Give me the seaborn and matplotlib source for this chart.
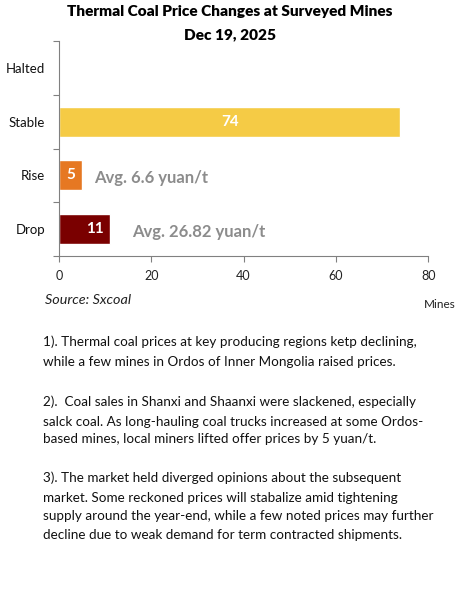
import matplotlib
matplotlib.use("Agg")
import matplotlib.pyplot as plt
import seaborn as sns
import pandas as pd
from matplotlib.ticker import FixedLocator

categories = ["Halted", "Stable", "Rise", "Drop"]
mines = [0, 74, 5, 11]
bar_labels = ["", "74", "5", "11"]
avg_labels = ["", "", "Avg. 6.6 yuan/t", "Avg. 26.82 yuan/t"]
colors = ["#F5CB45", "#F5CB45", "#E67822", "#7A0000"]
x_ticks = [0, 20, 40, 60, 80]

title_lines = ["Thermal Coal Price Changes at Surveyed Mines", "Dec 19, 2025"]
source = "Source: Sxcoal"
unit = "Mines"
notes = [
    ["1). Thermal coal prices at key producing regions ketp declining,",
     "while a few mines in Ordos of Inner Mongolia raised prices."],
    ["2).  Coal sales in Shanxi and Shaanxi were slackened, especially",
     "salck coal. As long-hauling coal trucks increased at some Ordos-",
     "based mines, local miners lifted offer prices by 5 yuan/t."],
    ["3). The market held diverged opinions about the subsequent",
     "market. Some reckoned prices will stabalize amid tightening",
     "supply around the year-end, while a few noted prices may further",
     "decline due to weak demand for term contracted shipments."],
]

sns.set_theme(style="white")
plt.rcParams["font.family"] = ["Lato", "DejaVu Sans"]

df = pd.DataFrame({"category": categories, "mines": mines})

fig = plt.figure(figsize=(4.62, 6.0), dpi=100)
ax = fig.add_axes([0.1277, 0.5733, 0.799, 0.3583])

sns.barplot(data=df, x="mines", y="category", hue="category",
            palette=dict(zip(categories, colors)), order=categories,
            width=0.56, legend=False, ax=ax, saturation=1)

ax.set_xlim(0, 80)
ax.set_ylim(3.5, -0.5)
ax.set_xticks(x_ticks)
ax.set_xticklabels([str(t) for t in x_ticks], fontsize=9, color="#222222")
ax.set_yticks(range(len(categories)))
ax.set_yticklabels(categories, fontsize=9.5, color="#111111")
ax.yaxis.set_minor_locator(FixedLocator([-0.5, 0.5, 1.5, 2.5, 3.5]))
ax.tick_params(axis="y", which="major", length=0, pad=10)
ax.tick_params(axis="y", which="minor", length=4, width=0.8, color="#808080", left=True)
ax.tick_params(axis="x", which="major", length=4, width=0.8, color="#808080", bottom=True, pad=6)
ax.set_xlabel("")
ax.set_ylabel("")
for s in ["top", "right"]:
    ax.spines[s].set_visible(False)
for s in ["left", "bottom"]:
    ax.spines[s].set_color("#808080")
    ax.spines[s].set_linewidth(0.8)

# value labels inside bars
for i, (v, lab) in enumerate(zip(mines, bar_labels)):
    if not lab:
        continue
    if i == 3:
        ax.text(v - 1.3, i, lab, ha="right", va="center", color="white",
                fontsize=11, fontweight="bold")
    else:
        ax.text(v / 2, i, lab, ha="center", va="center", color="white",
                fontsize=11, fontweight="bold")

# average annotations
offsets = {2: 2.6, 3: 4.8}
for i, (v, lab) in enumerate(zip(mines, avg_labels)):
    if lab:
        ax.text(v + offsets[i], i + 0.05, lab, ha="left", va="center",
                color="#8C8C8C", fontsize=12, fontweight="bold")

for line, y in zip(title_lines, [12, 35]):
    fig.text(0.498, 1 - y / 600, line, ha="center", va="center", fontsize=11.1,
             fontweight="heavy", color="#000000")

fig.text(45 / 462, 1 - 300 / 600, source, ha="left", va="center",
         fontsize=10.4, style="italic", color="#222222")
fig.text(424 / 462, 1 - 305 / 600, unit, ha="left", va="center",
         fontsize=8.5, color="#222222")

para_lines_y = [[342, 362], [402, 422, 439], [478, 498, 516, 535]]
for para, ys in zip(notes, para_lines_y):
    for line, y in zip(para, ys):
        fig.text(43 / 462, 1 - y / 600, line, ha="left", va="center",
                 fontsize=9.75, color="#111111")

fig.savefig("out.png", dpi=100)
